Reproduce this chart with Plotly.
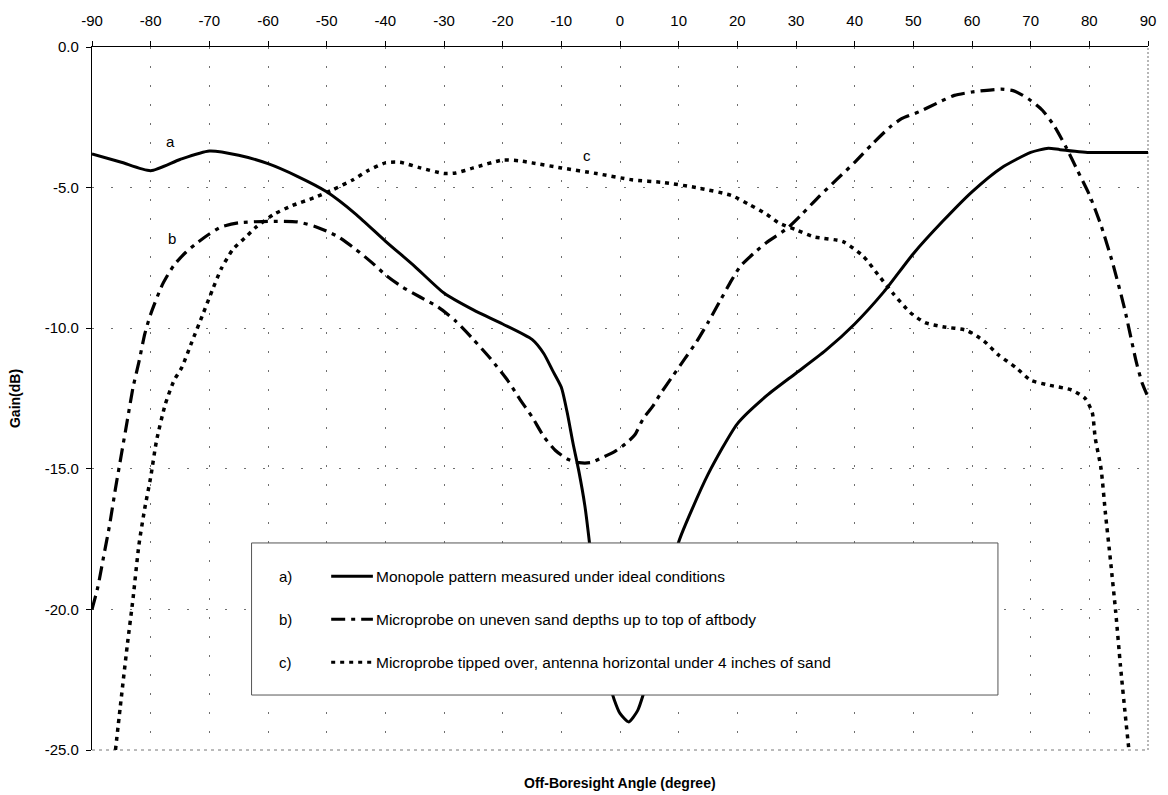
import plotly.graph_objects as go

# ---------------- data ----------------
a_angle = [-90, -85, -80, -75, -70, -65, -60, -55, -50, -45, -40, -35, -30, -25, -20, -15, -13,
           -11.5, -10, -9, -8, -7, -6, -5, -4, -3, -2, -1, 0, 1.5, 3, 4, 5, 6, 8, 10,
           15, 20, 25, 30, 35, 40, 45, 50, 55, 60, 65, 70, 73, 75, 80, 85, 90]
a_gain = [-3.8, -4.1, -4.4, -4.0, -3.7, -3.85, -4.15, -4.6, -5.15, -5.95, -6.9, -7.8, -8.75, -9.35,
          -9.85, -10.4, -10.9, -11.5, -12.1, -13.0, -14.1, -15.1, -16.3, -18.0, -20.0, -21.5,
          -22.5, -23.2, -23.7, -24.0, -23.6, -23.0, -22.2, -21.2, -19.4, -17.6,
          -15.2, -13.4, -12.4, -11.6, -10.8, -9.85, -8.7, -7.35, -6.2, -5.15, -4.3, -3.75,
          -3.6, -3.65, -3.75, -3.75, -3.75]

b_angle = [-90, -89, -88, -87, -86, -85, -84, -83, -82, -81, -80, -78, -76, -74, -72, -70, -68,
           -65, -60, -55, -52, -50, -48, -45, -42, -40, -37, -34, -31, -28, -25, -22, -19,
           -17, -15, -13, -11, -9, -7, -5, -3, -1, 1, 2.5, 4, 5.5, 7, 9, 11, 13, 15, 17, 19,
           20.5, 23, 25, 28.5, 31, 34, 37, 40, 43, 46, 48, 51, 54, 57, 60, 62, 65, 67, 68.5,
           70, 72, 74, 76, 78, 80, 82, 84, 86, 88, 89, 90]
b_gain = [-20.0, -19.2, -18.1, -17.0, -15.7, -14.5, -13.3, -12.1, -11.2, -10.2, -9.5, -8.45,
          -7.75, -7.3, -6.95, -6.65, -6.4, -6.25, -6.2, -6.22, -6.38, -6.55, -6.75, -7.2,
          -7.72, -8.1, -8.55, -8.9, -9.25, -9.75, -10.4, -11.1, -11.9, -12.55, -13.15, -13.85,
          -14.35, -14.65, -14.78, -14.78, -14.6, -14.4, -14.1, -13.8, -13.2, -12.8, -12.3,
          -11.7, -11.1, -10.5, -9.8, -9.05, -8.3, -7.8, -7.3, -6.95, -6.45, -5.95, -5.3, -4.7,
          -4.1, -3.45, -2.85, -2.55, -2.3, -2.0, -1.72, -1.6, -1.55, -1.5, -1.55, -1.7, -1.9,
          -2.25, -2.8, -3.55, -4.4, -5.25, -6.35, -7.7, -9.3, -11.2, -11.95, -12.45]

c_angle = [-86, -85.2, -84, -83, -82, -81, -80, -79, -77.5, -76, -74.7, -73, -71, -69.5, -68,
           -66, -64, -62, -59, -56, -52, -49, -45.5, -43, -40, -37.5, -34, -30, -28, -25, -20,
           -17, -15, -10, -4, 2, 7.5, 13, 19, 22, 25, 27, 30, 33, 38, 41.5, 44, 46.5, 49.5, 52,
           55, 59, 62, 64.5, 67.5, 70, 73, 77, 79.3, 80.5, 81, 82, 82.75, 83.6, 84.5, 85.3,
           86.15, 86.7]
c_gain = [-25.0, -23.5, -21.3, -19.6, -17.7, -16.4, -15.3, -14.0, -12.7, -11.85, -11.4, -10.5,
          -9.45, -8.65, -7.9, -7.2, -6.8, -6.4, -5.95, -5.65, -5.35, -5.08, -4.72, -4.4, -4.12,
          -4.1, -4.3, -4.5, -4.48, -4.3, -4.02, -4.05, -4.12, -4.3, -4.5, -4.72, -4.82, -5.0,
          -5.28, -5.6, -5.95, -6.25, -6.5, -6.75, -6.92, -7.45, -8.1, -8.75, -9.45, -9.8, -9.95,
          -10.07, -10.45, -10.95, -11.4, -11.85, -12.02, -12.2, -12.5, -13.0, -13.9, -15.0,
          -16.6, -18.25, -20.1, -22.0, -23.8, -24.9]

x_ticks = [-90, -80, -70, -60, -50, -40, -30, -20, -10, 0, 10, 20, 30, 40, 50, 60, 70, 80, 90]
x_ticktext = ["-90", "-80", "-70", "-60", "-50", "-40", "-30", "-20", "-10", "0", "10", "20",
              "30", "40", "50", "60", "70", "80", "90"]
y_ticks = [0, -5, -10, -15, -20, -25]
y_ticktext = ["0.0", "-5.0", "-10.0", "-15.0", "-20.0", "-25.0"]

series_tags = ["a)", "b)", "c)"]
series_names = ["Monopole pattern measured under ideal conditions",
                "Microprobe on uneven sand depths up to top of aftbody",
                "Microprobe tipped over, antenna horizontal under 4 inches of sand"]
curve_labels = ["a", "b", "c"]
curve_label_pos = [(-76.7, -3.35), (-76.3, -6.8), (-5.6, -3.85)]

# ---------------- styles ----------------
FONT = "Liberation Sans, Arial, Helvetica, sans-serif"
dashes = ["solid", "14px,6px,4px,6px", "4px,5px"]
widths = [3, 3.2, 3.5]
GRID_DASH = "2px,17px"
GRID_COLOR = "#6f6f6f"

fig = go.Figure()
for xs, ys, d, w, name in zip([a_angle, b_angle, c_angle], [a_gain, b_gain, c_gain],
                              dashes, widths, series_names):
    fig.add_trace(go.Scatter(x=xs, y=ys, mode="lines", name=name, showlegend=False,
                             line=dict(color="black", width=w, dash=d, shape="spline",
                                       smoothing=0.6)))

for lab, (lx, ly) in zip(curve_labels, curve_label_pos):
    fig.add_annotation(x=lx, y=ly, text=lab, showarrow=False,
                       font=dict(family=FONT, size=15, color="black"))

# ---- custom legend box (covers curves) ----
shapes = []
lx0, lx1, ly0, ly1 = 0.1511, 0.8579, 0.0782, 0.2945
shapes.append(dict(type="rect", xref="paper", yref="paper", x0=lx0, x1=lx1, y0=ly0, y1=ly1,
                   fillcolor="white", line=dict(color="#555", width=1), layer="above"))
rows_y = [0.2470, 0.1860, 0.1250]
samp_x0, samp_x1 = 0.2265, 0.2660
tag_x = 0.183
text_x = 0.2675
for tag, name, d, ry in zip(series_tags, series_names, dashes, rows_y):
    shapes.append(dict(type="line", xref="paper", yref="paper", x0=samp_x0, x1=samp_x1,
                       y0=ry, y1=ry, line=dict(color="black", width=3, dash=d), layer="above"))
    fig.add_annotation(xref="paper", yref="paper", x=tag_x, y=ry, text=tag, showarrow=False,
                       xanchor="center", yanchor="middle",
                       font=dict(family=FONT, size=15, color="black"))
    fig.add_annotation(xref="paper", yref="paper", x=text_x, y=ry, text=name, showarrow=False,
                       xanchor="left", yanchor="middle",
                       font=dict(family=FONT, size=15.5, color="black"))

# plot-frame borders: bottom and right dotted grey
shapes.append(dict(type="line", xref="paper", yref="paper", x0=0, x1=1, y0=0, y1=0,
                   line=dict(color="#777", width=1, dash="3px,4px"), layer="below"))
shapes.append(dict(type="line", xref="paper", yref="paper", x0=1, x1=1, y0=0, y1=1,
                   line=dict(color="#888", width=1.2, dash="2px,2px"), layer="below"))
fig.update_layout(shapes=shapes)

# x-axis title at bottom
fig.add_annotation(xref="paper", yref="paper", x=0.5, y=-0.047,
                   text="<b>Off-Boresight Angle (degree)</b>",
                   showarrow=False, xanchor="center", yanchor="middle",
                   font=dict(family=FONT, size=14, color="black"))

fig.update_xaxes(side="top", range=[-90, 90], tickvals=x_ticks, ticktext=x_ticktext,
                 showline=True, linecolor="black", linewidth=1.2, ticks="outside", ticklen=5,
                 tickcolor="black", ticklabelstandoff=9, showgrid=True, gridcolor=GRID_COLOR,
                 griddash=GRID_DASH, gridwidth=1, zeroline=False,
                 tickfont=dict(family=FONT, size=15, color="black"))
fig.update_yaxes(range=[-25, 0], tickvals=y_ticks, ticktext=y_ticktext,
                 showline=True, linecolor="black", linewidth=1.2, ticks="outside", ticklen=5,
                 tickcolor="black", ticklabelstandoff=4, showgrid=True, gridcolor=GRID_COLOR,
                 griddash=GRID_DASH, gridwidth=1, zeroline=False,
                 tickfont=dict(family=FONT, size=15, color="black"),
                 title=dict(text="<b>Gain(dB)</b>", font=dict(family=FONT, size=14, color="black"),
                            standoff=20))

fig.update_layout(width=1168, height=795, autosize=False,
                  margin=dict(l=92, r=15, t=47, b=45),
                  paper_bgcolor="white", plot_bgcolor="white",
                  font=dict(family=FONT, size=14, color="black"),
                  showlegend=False)

fig.write_html("out.html")
